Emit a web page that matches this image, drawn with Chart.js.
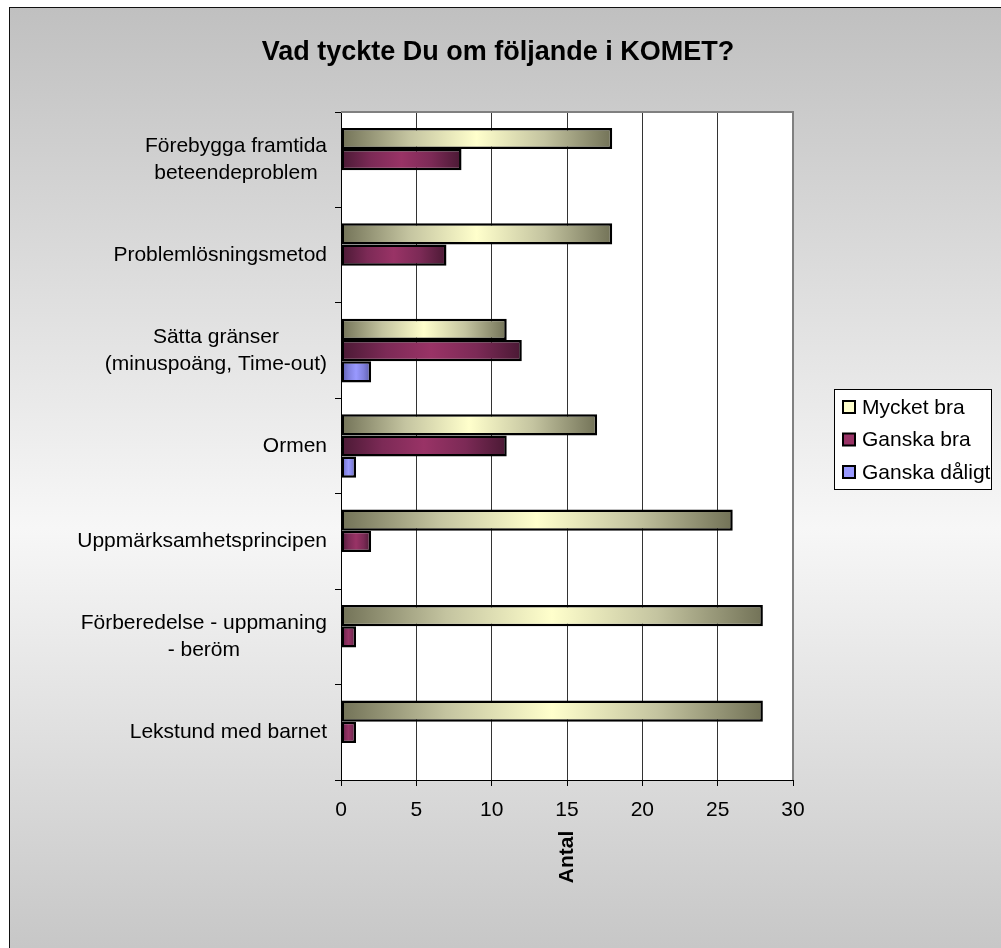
<!DOCTYPE html>
<html>
<head>
<meta charset="utf-8">
<script src="https://cdn.jsdelivr.net/npm/chart.js@4.4.1/dist/chart.umd.min.js"></script>
<style>
  html, body { margin: 0; padding: 0; background: #fff; overflow: hidden; width: 1001px; height: 948px; }
  #frame {
    position: absolute; left: 9px; top: 7px; width: 1100px; height: 1000px;
    border-left: 1px solid #111; border-top: 1px solid #111;
    background: linear-gradient(to bottom, #c0c0c0 0px, #f7f7f7 520px, #c0c0c0 1000px);
  }
  #chart { position: absolute; left: 0; top: 0; }
</style>
</head>
<body>
<div id="frame"></div>
<canvas id="chart" width="1001" height="948"></canvas>
<script>
const kategorier = [
  ['Förebygga framtida', 'beteendeproblem'],
  'Problemlösningsmetod',
  ['Sätta gränser', '(minuspoäng, Time-out)'],
  'Ormen',
  'Uppmärksamhetsprincipen',
  ['Förberedelse - uppmaning', '- beröm'],
  'Lekstund med barnet'
];
const serier = ['Mycket bra', 'Ganska bra', 'Ganska dåligt'];
const mycketBra = [18, 18, 11, 17, 26, 28, 28];
const ganskaBra = [8, 7, 12, 11, 2, 1, 1];
const ganskaDaligt = [0, 0, 2, 1, 0, 0, 0];
const xTicks = [0, 5, 10, 15, 20, 25, 30];
const axelTitel = 'Antal';
const titel = 'Vad tyckte Du om följande i KOMET?';

const FONT = '"Liberation Sans", Arial, sans-serif';

// gradient along each bar, dark at both ends and light in the middle
function barFill(edge, mid, center, flat) {
  return function (c) {
    const chart = c.chart;
    if (!chart.chartArea || c.type !== 'data') return flat;
    const x = chart.scales.x;
    const x0 = x.getPixelForValue(0);
    const x1 = x.getPixelForValue(c.raw);
    if (x1 - x0 < 1) return flat;
    const g = chart.ctx.createLinearGradient(x0, 0, x1, 0);
    g.addColorStop(0, edge);
    g.addColorStop(0.25, mid);
    g.addColorStop(0.5, center);
    g.addColorStop(0.75, mid);
    g.addColorStop(1, edge);
    return g;
  };
}

function border(c) {
  return c.raw ? 2.5 : 0;
}

const legendFarger = ['#ffffcc', '#993366', '#9999ff'];

const extras = {
  id: 'extras',
  beforeDraw(chart) {
    const a = chart.chartArea;
    const ctx = chart.ctx;
    ctx.save();
    ctx.fillStyle = '#fff';
    ctx.fillRect(a.left, a.top, a.right - a.left, a.bottom - a.top);
    ctx.restore();
  },
  beforeDatasetsDraw(chart) {
    const a = chart.chartArea;
    const ctx = chart.ctx;
    ctx.save();
    ctx.strokeStyle = '#808080';
    ctx.lineWidth = 2;
    ctx.beginPath();
    ctx.moveTo(a.left, a.top);
    ctx.lineTo(a.right, a.top);
    ctx.lineTo(a.right, a.bottom);
    ctx.stroke();
    ctx.restore();
  },
  afterDraw(chart) {
    const ctx = chart.ctx;
    const y = chart.scales.y;
    const a = chart.chartArea;
    ctx.save();
    ctx.fillStyle = '#000';
    ctx.textBaseline = 'middle';

    // title
    ctx.font = 'bold 27px ' + FONT;
    ctx.textAlign = 'center';
    ctx.fillText(titel, 498, 53);

    // category labels: lines centred on each other, block right aligned
    ctx.font = '21px ' + FONT;
    const right = a.left - 14;
    const lh = 26.5;
    kategorier.forEach((lab, i) => {
      const lines = Array.isArray(lab) ? lab : [lab];
      const w = Math.max(...lines.map(l => ctx.measureText(l).width));
      const cx = right - w / 2;
      const cy = y.getPixelForTick(i);
      lines.forEach((l, k) => {
        ctx.fillText(l, cx, cy + (k - (lines.length - 1) / 2) * lh);
      });
    });

    // axis title, rotated
    ctx.save();
    ctx.font = 'bold 21px ' + FONT;
    ctx.translate((a.left + a.right) / 2, 857);
    ctx.rotate(-Math.PI / 2);
    ctx.fillText(axelTitel, 0, 0);
    ctx.restore();

    // legend
    const lx = 834, ly = 389, lw = 157, lhgt = 100;
    ctx.fillStyle = '#fff';
    ctx.fillRect(lx, ly, lw, lhgt);
    ctx.strokeStyle = '#000';
    ctx.lineWidth = 1;
    ctx.strokeRect(lx + 0.5, ly + 0.5, lw, lhgt);
    ctx.font = '21px ' + FONT;
    ctx.textAlign = 'left';
    serier.forEach((s, i) => {
      const ry = 407 + i * 32.5;
      ctx.fillStyle = legendFarger[i];
      ctx.fillRect(843, ry - 6, 12, 12);
      ctx.strokeStyle = '#000';
      ctx.lineWidth = 2;
      ctx.strokeRect(843, ry - 6, 12, 12);
      ctx.fillStyle = '#000';
      ctx.fillText(s, 862, ry + 1);
    });
    ctx.restore();
  }
};

new Chart(document.getElementById('chart'), {
  type: 'bar',
  data: {
    labels: kategorier,
    datasets: [
      {
        label: serier[0],
        data: mycketBra,
        backgroundColor: barFill('#727257', '#c4c4a0', '#ffffcc', '#ffffcc'),
        borderColor: '#000',
        borderWidth: border,
        borderSkipped: false
      },
      {
        label: serier[1],
        data: ganskaBra,
        backgroundColor: barFill('#4a1934', '#7c2a56', '#993366', '#993366'),
        borderColor: '#000',
        borderWidth: border,
        borderSkipped: false
      },
      {
        label: serier[2],
        data: ganskaDaligt,
        backgroundColor: barFill('#5a5aa8', '#8080dd', '#9999ff', '#9999ff'),
        borderColor: '#000',
        borderWidth: border,
        borderSkipped: false
      }
    ]
  },
  options: {
    indexAxis: 'y',
    responsive: false,
    animation: false,
    devicePixelRatio: 1,
    layout: { padding: { top: 112, left: 0, right: 208, bottom: 0 } },
    datasets: {
      bar: { categoryPercentage: 0.667, barPercentage: 1 }
    },
    scales: {
      x: {
        min: 0,
        max: 30,
        afterBuildTicks: s => { s.ticks = xTicks.map(v => ({ value: v })); },
        afterFit: s => { s.height = 168; },
        grid: { color: '#333', lineWidth: 1, tickLength: 6, tickColor: '#000' },
        border: { color: '#000', width: 1 },
        ticks: { color: '#000', padding: 12, maxRotation: 0, autoSkip: false, font: { size: 21, family: FONT } }
      },
      y: {
        afterFit: s => { s.width = 341; },
        grid: { drawOnChartArea: false, color: '#000', tickLength: 6 },
        border: { color: '#000', width: 1 },
        ticks: { display: false }
      }
    },
    plugins: {
      legend: { display: false },
      tooltip: { enabled: false },
      title: { display: false }
    }
  },
  plugins: [extras]
});
</script>
</body>
</html>
